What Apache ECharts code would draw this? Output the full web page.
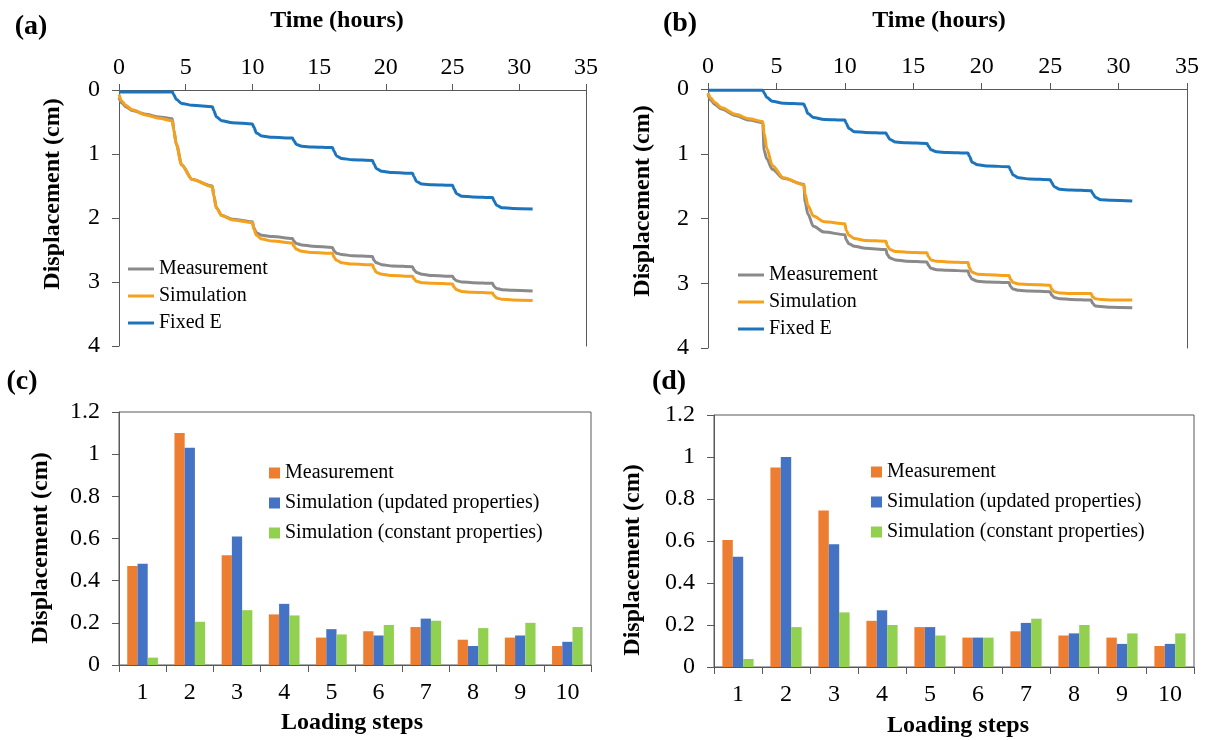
<!DOCTYPE html>
<html>
<head>
<meta charset="utf-8">
<title>Displacement under loading steps</title>
<script src="https://cdn.jsdelivr.net/npm/echarts@6/dist/echarts.min.js"></script>
<style>
  html, body { margin: 0; padding: 0; background: #fff; }
  #page { position: relative; width: 1210px; height: 740px; }
  .panel { position: absolute; }
</style>
</head>
<body>
<div id="page">
  <div id="pa" class="panel" style="left:0;top:0;width:605px;height:360px"></div>
  <div id="pb" class="panel" style="left:605px;top:0;width:605px;height:360px"></div>
  <div id="pc" class="panel" style="left:0;top:360px;width:605px;height:380px"></div>
  <div id="pd" class="panel" style="left:605px;top:360px;width:605px;height:380px"></div>
</div>
<script>
// ---- time history (hours) shared by both settlement curves ----
const timeH = [0, 0.2, 0.5, 1, 2, 3, 4,
  4.1, 4.3, 4.7, 5.5, 7,
  7.1, 7.3, 7.7, 8.5, 10,
  10.1, 10.3, 10.7, 11.5, 13,
  13.1, 13.3, 13.7, 14.5, 16,
  16.1, 16.3, 16.7, 17.5, 19,
  19.1, 19.3, 19.7, 20.5, 22,
  22.1, 22.3, 22.7, 23.5, 25,
  25.1, 25.3, 25.7, 26.5, 28,
  28.1, 28.3, 28.7, 29.5, 31];

// ---- panel (a): displacement (cm) ----
const measA = [0.12, 0.20, 0.26, 0.32, 0.38, 0.42, 0.45,
  0.62, 0.85, 1.17, 1.40, 1.50,
  1.65, 1.84, 1.96, 2.02, 2.06,
  2.15, 2.23, 2.27, 2.29, 2.32,
  2.36, 2.40, 2.42, 2.44, 2.46,
  2.51, 2.55, 2.57, 2.59, 2.60,
  2.66, 2.70, 2.73, 2.75, 2.76,
  2.81, 2.85, 2.88, 2.90, 2.91,
  2.95, 2.98, 3.00, 3.01, 3.02,
  3.07, 3.10, 3.12, 3.13, 3.14];
const simA = [0.07, 0.17, 0.24, 0.31, 0.39, 0.44, 0.48,
  0.62, 0.85, 1.17, 1.40, 1.51,
  1.65, 1.84, 1.96, 2.03, 2.07,
  2.17, 2.27, 2.33, 2.36, 2.39,
  2.44, 2.49, 2.52, 2.54, 2.55,
  2.61, 2.66, 2.70, 2.72, 2.73,
  2.79, 2.85, 2.88, 2.90, 2.91,
  2.95, 2.99, 3.01, 3.02, 3.03,
  3.08, 3.12, 3.15, 3.16, 3.17,
  3.21, 3.25, 3.27, 3.28, 3.29];
const fixedA = [0.03, 0.03, 0.03, 0.03, 0.03, 0.03, 0.03,
  0.07, 0.15, 0.21, 0.24, 0.26,
  0.32, 0.42, 0.48, 0.51, 0.53,
  0.58, 0.67, 0.72, 0.74, 0.75,
  0.79, 0.85, 0.88, 0.89, 0.90,
  0.95, 1.03, 1.07, 1.09, 1.10,
  1.15, 1.23, 1.27, 1.29, 1.30,
  1.35, 1.43, 1.47, 1.48, 1.49,
  1.54, 1.62, 1.66, 1.67, 1.68,
  1.73, 1.80, 1.84, 1.85, 1.86];

// ---- panel (b): displacement (cm) ----
const measB = [0.08, 0.17, 0.24, 0.31, 0.41, 0.48, 0.52,
  0.95, 1.08, 1.24, 1.38, 1.47,
  1.75, 1.93, 2.12, 2.21, 2.25,
  2.33, 2.39, 2.43, 2.46, 2.48,
  2.56, 2.61, 2.64, 2.66, 2.67,
  2.72, 2.77, 2.79, 2.80, 2.81,
  2.88, 2.94, 2.97, 2.98, 2.99,
  3.05, 3.09, 3.11, 3.12, 3.13,
  3.18, 3.22, 3.24, 3.25, 3.26,
  3.31, 3.35, 3.36, 3.37, 3.38];
const simB = [0.06, 0.14, 0.21, 0.29, 0.39, 0.46, 0.50,
  0.68, 0.92, 1.18, 1.37, 1.48,
  1.62, 1.80, 1.96, 2.05, 2.08,
  2.18, 2.26, 2.31, 2.34, 2.35,
  2.42, 2.48, 2.51, 2.52, 2.53,
  2.59, 2.64, 2.66, 2.67, 2.68,
  2.76, 2.83, 2.86, 2.87, 2.88,
  2.94, 2.99, 3.01, 3.02, 3.03,
  3.09, 3.13, 3.15, 3.16, 3.16,
  3.21, 3.24, 3.25, 3.26, 3.26];
const fixedB = [0.02, 0.02, 0.02, 0.02, 0.02, 0.02, 0.02,
  0.06, 0.13, 0.19, 0.22, 0.23,
  0.28, 0.38, 0.44, 0.47, 0.48,
  0.53, 0.61, 0.66, 0.67, 0.68,
  0.72, 0.78, 0.82, 0.83, 0.84,
  0.88, 0.94, 0.97, 0.98, 0.99,
  1.04, 1.13, 1.17, 1.19, 1.20,
  1.25, 1.33, 1.37, 1.39, 1.40,
  1.44, 1.51, 1.55, 1.56, 1.57,
  1.61, 1.67, 1.71, 1.72, 1.73];

// ---- panels (c) and (d): displacement per loading step (cm) ----
const stepLabels = ['1', '2', '3', '4', '5', '6', '7', '8', '9', '10'];
const measC    = [0.47, 1.10, 0.52, 0.24, 0.13, 0.16, 0.18, 0.12, 0.13, 0.09];
const updatedC = [0.48, 1.03, 0.61, 0.29, 0.17, 0.14, 0.22, 0.09, 0.14, 0.11];
const constC   = [0.035, 0.205, 0.26, 0.235, 0.145, 0.19, 0.21, 0.175, 0.20, 0.18];
const measD    = [0.605, 0.95, 0.745, 0.22, 0.19, 0.14, 0.17, 0.15, 0.14, 0.10];
const updatedD = [0.525, 1.00, 0.585, 0.27, 0.19, 0.14, 0.21, 0.16, 0.11, 0.11];
const constD   = [0.038, 0.19, 0.26, 0.20, 0.15, 0.14, 0.23, 0.20, 0.16, 0.16];

const dispTicks = [0, 1, 2, 3, 4];
const stepTicks = [0, 0.2, 0.4, 0.6, 0.8, 1, 1.2];

const FONT = '"Liberation Serif", "Times New Roman", serif';
const AXIS = '#595959';
const TICK_SIZE = 24;
const LINE_COLORS = { meas: '#8a8a8a', sim: '#f5a11c', fixed: '#1c75bc' };
const BAR_COLORS = { meas: '#ed7d31', upd: '#4472c4', cst: '#92d050' };

function pairs(xs, ys) { return xs.map((x, i) => [x, ys[i]]); }

function label(text, x, y, size, bold, rotate) {
  return {
    type: 'text', x: x, y: y, rotation: rotate ? Math.PI / 2 : 0, silent: true,
    style: {
      text: text, x: 0, y: 0, fill: '#000',
      font: (bold ? 'bold ' : '') + size + 'px ' + FONT,
      textAlign: 'center', textVerticalAlign: 'middle'
    }
  };
}

function lineAxisStyle() {
  return { show: true, onZero: false, lineStyle: { color: AXIS, width: 1 } };
}

function curve(name, data, color) {
  return {
    name: name, type: 'line', data: data, symbol: 'none',
    smooth: 0.3, smoothMonotone: 'x',
    lineStyle: { width: 3, color: color }, itemStyle: { color: color }
  };
}

function timePanel(cfg) {
  return {
    animation: false,
    grid: { left: cfg.grid[0], top: cfg.grid[1], width: cfg.grid[2], height: cfg.grid[3] },
    xAxis: {
      type: 'value', position: 'top', min: 0, max: 35, interval: 5,
      axisLine: lineAxisStyle(),
      axisTick: { show: true, length: 6, lineStyle: { color: AXIS } },
      axisLabel: { fontFamily: FONT, fontSize: TICK_SIZE, color: '#000', margin: 10 },
      splitLine: { show: false }
    },
    yAxis: [{
      type: 'value', inverse: true, min: dispTicks[0], max: dispTicks[dispTicks.length - 1], interval: 1,
      axisLine: lineAxisStyle(),
      axisTick: { show: true, length: 7, lineStyle: { color: AXIS } },
      axisLabel: { fontFamily: FONT, fontSize: TICK_SIZE, color: '#000', margin: 19 },
      splitLine: { show: false }
    }, {
      type: 'value', position: 'right', inverse: true, min: 0, max: 4,
      axisLine: lineAxisStyle(),
      axisTick: { show: false }, axisLabel: { show: false }, splitLine: { show: false }
    }],
    legend: {
      orient: 'vertical', left: cfg.legend[0], top: cfg.legend[1], padding: 0,
      itemGap: 7, itemWidth: 26, itemHeight: 3, icon: 'rect',
      data: ['Measurement', 'Simulation', 'Fixed E'],
      textStyle: { fontFamily: FONT, fontSize: 20, color: '#000', lineHeight: 20 }
    },
    series: [
      curve('Measurement', pairs(timeH, cfg.meas), LINE_COLORS.meas),
      curve('Simulation', pairs(timeH, cfg.sim), LINE_COLORS.sim),
      curve('Fixed E', pairs(timeH, cfg.fixed), LINE_COLORS.fixed)
    ],
    graphic: cfg.texts
  };
}

function stepPanel(cfg) {
  const bar = (name, data, color) => ({
    name: name, type: 'bar', data: data, barGap: '0%', barCategoryGap: '35%',
    itemStyle: { color: color }
  });
  return {
    animation: false,
    grid: {
      left: cfg.grid[0], top: cfg.grid[1], width: cfg.grid[2], height: cfg.grid[3],
      show: true, borderColor: AXIS, borderWidth: 1, backgroundColor: 'transparent'
    },
    xAxis: {
      type: 'category', data: stepLabels,
      axisLine: { show: true, lineStyle: { color: AXIS } },
      axisTick: { show: true, length: 7, lineStyle: { color: AXIS } },
      axisLabel: { fontFamily: FONT, fontSize: TICK_SIZE, color: '#000', margin: 16, interval: 0 },
      splitLine: { show: false }
    },
    yAxis: {
      type: 'value', min: stepTicks[0], max: stepTicks[stepTicks.length - 1], interval: 0.2,
      axisLine: { show: true, onZero: false, lineStyle: { color: AXIS } },
      axisTick: { show: true, length: 7, lineStyle: { color: AXIS } },
      axisLabel: { fontFamily: FONT, fontSize: TICK_SIZE, color: '#000', margin: 19 },
      splitLine: { show: false }
    },
    legend: {
      orient: 'vertical', left: cfg.legend[0], top: cfg.legend[1], padding: 0,
      itemGap: 10, itemWidth: 11, itemHeight: 11, icon: 'rect',
      data: ['Measurement', 'Simulation (updated properties)', 'Simulation (constant properties)'],
      textStyle: { fontFamily: FONT, fontSize: 20, color: '#000', lineHeight: 20 }
    },
    series: [
      bar('Measurement', cfg.meas, BAR_COLORS.meas),
      bar('Simulation (updated properties)', cfg.upd, BAR_COLORS.upd),
      bar('Simulation (constant properties)', cfg.cst, BAR_COLORS.cst)
    ],
    graphic: cfg.texts
  };
}

const dispName = 'Displacement (cm)';

echarts.init(document.getElementById('pa'), null, { renderer: 'canvas' }).setOption(timePanel({
  grid: [119, 90, 467, 256], legend: [128, 259],
  meas: measA, sim: simA, fixed: fixedA,
  texts: [label('(a)', 31, 27, 28, true), label('Time (hours)', 337, 21, 24, true),
          label(dispName, 53, 194, 24, true, true)]
}));

echarts.init(document.getElementById('pb'), null, { renderer: 'canvas' }).setOption(timePanel({
  grid: [103, 89, 479, 259], legend: [133, 265],
  meas: measB, sim: simB, fixed: fixedB,
  texts: [label('(b)', 75, 24, 28, true), label('Time (hours)', 334, 21, 24, true),
          label(dispName, 38, 201, 24, true, true)]
}));

echarts.init(document.getElementById('pc'), null, { renderer: 'canvas' }).setOption(stepPanel({
  grid: [119, 52, 472, 253], legend: [269, 103],
  meas: measC, upd: updatedC, cst: constC,
  texts: [label('(c)', 22, 22, 28, true), label(dispName, 41, 188, 24, true, true),
          label('Loading steps', 352, 363, 24, true)]
}));

echarts.init(document.getElementById('pd'), null, { renderer: 'canvas' }).setOption(stepPanel({
  grid: [109, 55, 480, 252], legend: [266, 102],
  meas: measD, upd: updatedD, cst: constD,
  texts: [label('(d)', 64, 22, 28, true), label(dispName, 28, 200, 24, true, true),
          label('Loading steps', 353, 366, 24, true)]
}));
</script>
</body>
</html>
